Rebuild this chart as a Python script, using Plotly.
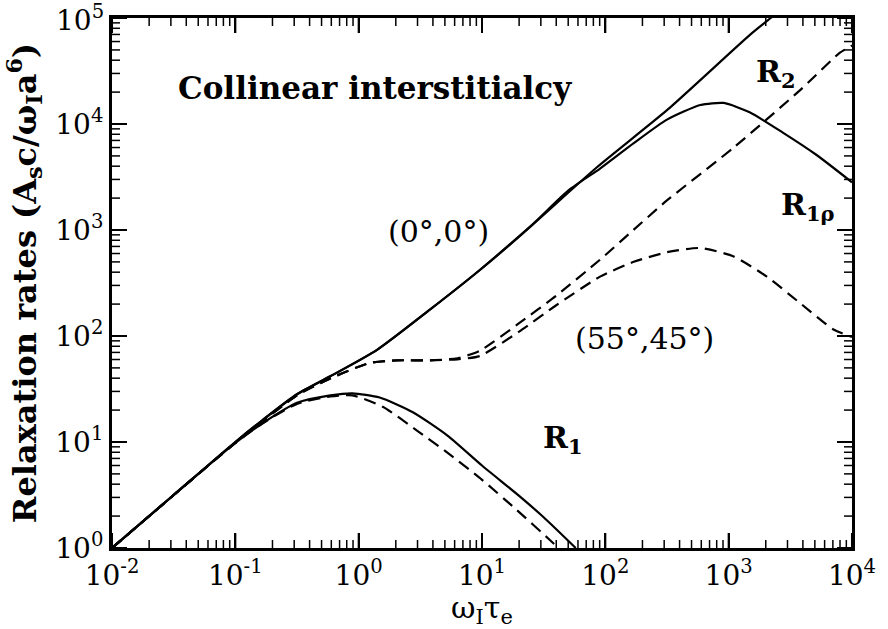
import plotly.graph_objects as go

# ---- data ----
# (0°,0°) R2 – solid
r2_00_x = [0.01, 0.0316, 0.1, 0.1675, 0.316, 0.589, 1.41, 3.8, 9.55, 24.5, 85, 316, 1480, 2190, 3000]
r2_00_y = [1, 3.16, 10, 16.2, 28.2, 41.7, 74, 178, 417, 1070, 3890, 13500, 69000, 100000, 137000]

# (0°,0°) R1rho – solid
r1r_00_x = [0.01, 0.0316, 0.1, 0.1675, 0.316, 0.589, 1.41, 3.8, 9.55, 24.5, 50, 90.6, 170, 316, 589, 912, 1480, 2750, 5130, 10000]
r1r_00_y = [1, 3.16, 10, 16.2, 28.2, 41.7, 74, 178, 417, 1070, 2350, 3800, 6600, 11000, 15100, 15800, 12900, 8300, 5130, 2820]

# (0°,0°) R1 – solid
r1_00_x = [0.01, 0.0316, 0.1, 0.1675, 0.316, 0.589, 0.891, 1.48, 2.75, 5.25, 10, 20, 31.6, 57.5]
r1_00_y = [1, 3.16, 9.8, 15.1, 23.4, 27.5, 28.8, 26.3, 19.1, 11.5, 6.0, 3.1, 1.95, 1.0]

# (55°,45°) R2 – dashed
r2_55_x = [0.01, 0.1, 0.316, 0.589, 1.23, 2.04, 3.78, 6.31, 9.55, 20, 40, 90.6, 158, 316, 1100, 3800, 7940, 10000]
r2_55_y = [1, 9.8, 27.5, 39.8, 55.6, 58.9, 58.9, 61.7, 72.4, 132, 240, 525, 933, 1900, 6000, 20900, 46800, 55000]

# (55°,45°) R1rho – dashed
r1r_55_x = [0.01, 0.1, 0.316, 0.589, 1.23, 2.04, 3.78, 6.31, 9.55, 20, 40, 90.6, 170, 316, 589, 1100, 2040, 3800, 7080, 10000]
r1r_55_y = [1, 9.8, 27.5, 39.8, 55.6, 58.9, 58.9, 60.3, 64.6, 110, 195, 363, 501, 617, 676, 562, 363, 204, 115, 98]

# (55°,45°) R1 – dashed
r1_55_x = [0.01, 0.0316, 0.1, 0.1675, 0.316, 0.589, 0.891, 1.58, 2.95, 5.5, 10, 19, 35.5, 41.7]
r1_55_y = [1, 3.16, 9.8, 15.1, 22.9, 26.9, 27.5, 21.4, 12.9, 7.6, 4.4, 2.3, 1.19, 1.0]

x_tick_vals = [1e-2, 1e-1, 1e0, 1e1, 1e2, 1e3, 1e4]
x_tick_text = ["10<sup>-2</sup>", "10<sup>-1</sup>", "10<sup>0</sup>", "10<sup>1</sup>",
               "10<sup>2</sup>", "10<sup>3</sup>", "10<sup>4</sup>"]
y_tick_vals = [1e0, 1e1, 1e2, 1e3, 1e4, 1e5]
y_tick_text = ["10<sup>0</sup>", "10<sup>1</sup>", "10<sup>2</sup>", "10<sup>3</sup>",
               "10<sup>4</sup>", "10<sup>5</sup>"]

FONT = "DejaVu Serif"
SOLID = dict(color="black", width=2.2)
DASH = dict(color="black", width=2.2, dash="12px,7px")

fig = go.Figure()
for xs, ys, ln in [
    (r2_00_x, r2_00_y, SOLID),
    (r1r_00_x, r1r_00_y, SOLID),
    (r1_00_x, r1_00_y, SOLID),
    (r2_55_x, r2_55_y, DASH),
    (r1r_55_x, r1r_55_y, DASH),
    (r1_55_x, r1_55_y, DASH),
]:
    fig.add_trace(go.Scatter(x=xs, y=ys, mode="lines",
                             line=dict(shape="spline", smoothing=0.6, **ln),
                             showlegend=False, hoverinfo="skip"))


def minor_vals(lo, hi):
    return [m * 10 ** e for e in range(lo, hi) for m in range(2, 10)]


# ---- inside ticks on all four sides (pixel-length shapes at the axis values) ----
tick_shapes = []
for vals, ln, w in [(x_tick_vals, 15, 2), (minor_vals(-2, 4), 8, 1.5)]:
    for v in vals:
        for anchor, sign in [(0, 1), (1, -1)]:
            tick_shapes.append(dict(type="line", xref="x", yref="y domain", ysizemode="pixel",
                                    yanchor=anchor, x0=v, x1=v, y0=0, y1=sign * ln,
                                    line=dict(color="black", width=w), layer="above"))
for vals, ln, w in [(y_tick_vals, 15, 2), (minor_vals(0, 5), 8, 1.5)]:
    for v in vals:
        for anchor, sign in [(0, 1), (1, -1)]:
            tick_shapes.append(dict(type="line", yref="y", xref="x domain", xsizemode="pixel",
                                    xanchor=anchor, y0=v, y1=v, x0=0, x1=sign * ln,
                                    line=dict(color="black", width=w), layer="above"))

tickfont = dict(family=FONT, size=28, color="black")
axis_common = dict(type="log", showline=True, linecolor="black", linewidth=3, mirror="ticks",
                   ticks="inside", ticklen=15, tickwidth=2, tickcolor="black",
                   showgrid=False, zeroline=False, tickfont=tickfont, tickmode="array")

fig.update_layout(
    xaxis=dict(range=[-2.0002, 4.0002], tickvals=x_tick_vals, ticktext=x_tick_text,
               title=dict(text="ω<sub>I</sub>τ<sub>e</sub>",
                          font=dict(family=FONT, size=30, color="black"), standoff=2),
               **axis_common),
    # the top label (10^5) is written as an annotation so it is never hidden at the page edge
    yaxis=dict(range=[-0.0002, 5.0002], tickvals=y_tick_vals, ticktext=y_tick_text[:-1] + [""],
               title=dict(text="<b>Relaxation rates (A<sub>s</sub>c/ω<sub>I</sub>a<sup>6</sup>)</b>",
                          font=dict(family=FONT, size=32, color="black"), standoff=10),
               **axis_common),
    shapes=tick_shapes,
)
fig.add_annotation(x=0, xref="paper", xanchor="right", xshift=-6, y=5, yref="y",
                   yanchor="middle", text=y_tick_text[-1], showarrow=False, font=tickfont)

annotations = [
    ("<b>Collinear interstitialcy</b>", 0.133, 4.34, 31),
    ("(0°,0°)", 0.65, 2.99, 30),
    ("(55°,45°)", 2.32, 1.98, 30),
    ("<b>R<sub>2</sub></b>", 3.38, 4.48, 30),
    ("<b>R<sub>1ρ</sub></b>", 3.64, 3.22, 30),
    ("<b>R<sub>1</sub></b>", 1.66, 1.02, 30),
]
for txt, ax_, ay_, sz in annotations:
    fig.add_annotation(x=ax_, y=ay_, xref="x", yref="y", text=txt, showarrow=False,
                       font=dict(family=FONT, size=sz, color="black"))

fig.update_layout(
    width=888, height=629, margin=dict(l=112, r=36, t=18, b=81),
    paper_bgcolor="white", plot_bgcolor="white",
)

fig.write_html("out.html")
